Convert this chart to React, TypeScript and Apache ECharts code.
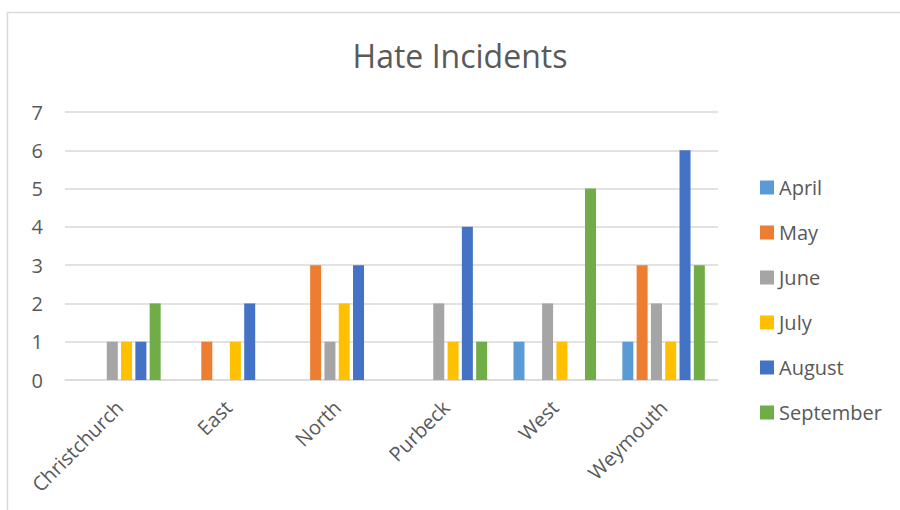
import React, { useEffect, useRef } from "react";
import * as echarts from "echarts";

const categories = ["Christchurch", "East", "North", "Purbeck", "West", "Weymouth"];
const months = ["April", "May", "June", "July", "August", "September"];
const april = [0, 0, 0, 0, 1, 1];
const may = [0, 1, 3, 0, 0, 3];
const june = [1, 0, 1, 2, 2, 2];
const july = [1, 1, 2, 1, 1, 1];
const august = [1, 2, 3, 4, 0, 6];
const september = [2, 0, 0, 1, 5, 3];
const seriesValues = [april, may, june, july, august, september];
const colors = ["#5B9BD5", "#ED7D31", "#A5A5A5", "#FFC000", "#4472C4", "#70AD47"];

const FONT = "'Open Sans', 'Noto Sans', sans-serif";
const TEXT = "#595959";
const LINE = "#D9D9D9";

export default function App() {
  const ref = useRef<HTMLDivElement>(null);

  useEffect(() => {
    if (!ref.current) return;
    const chart = echarts.init(ref.current, null, { renderer: "svg" });
    chart.setOption({
      animation: false,
      backgroundColor: "#ffffff",
      color: colors,
      title: {
        text: "Hate Incidents",
        left: 460,
        textAlign: "center",
        top: 39,
        padding: 0,
        textStyle: { fontFamily: FONT, fontSize: 32, fontWeight: "normal", color: TEXT },
      },
      graphic: [
        {
          type: "rect",
          shape: { x: 7.5, y: 12.5, width: 1000, height: 600 },
          style: { fill: "none", stroke: LINE, lineWidth: 1.5 },
          silent: true,
        },
      ],
      legend: {
        orient: "vertical",
        left: 760,
        top: 177,
        padding: 0,
        itemWidth: 14,
        itemHeight: 14,
        itemGap: 24,
        icon: "rect",
        data: months,
        textStyle: {
          fontFamily: FONT,
          fontSize: 20,
          lineHeight: 21,
          color: TEXT,
        },
      },
      grid: { left: 65, right: 182, top: 112, bottom: 130, containLabel: false },
      xAxis: {
        type: "category",
        data: categories,
        axisTick: { show: false },
        axisLine: { lineStyle: { color: LINE, width: 1.5 } },
        axisLabel: {
          rotate: 45,
          interval: 0,
          margin: 24,
          fontFamily: FONT,
          fontSize: 20,
          color: TEXT,
        },
      },
      yAxis: {
        type: "value",
        min: 0,
        max: 7,
        interval: 1,
        axisLine: { show: false },
        axisTick: { show: false },
        splitLine: { lineStyle: { color: LINE, width: 1.5 } },
        axisLabel: { fontFamily: FONT, fontSize: 20, color: TEXT, margin: 22 },
      },
      series: months.map((m, i) => ({
        name: m,
        type: "bar",
        data: seriesValues[i],
        barWidth: 11,
        barGap: "30%",
        itemStyle: { color: colors[i] },
      })),
    });
    return () => chart.dispose();
  }, []);

  return (
    <div
      ref={ref}
      style={{ position: "fixed", left: 0, top: 0, width: 900, height: 510 }}
    />
  );
}
